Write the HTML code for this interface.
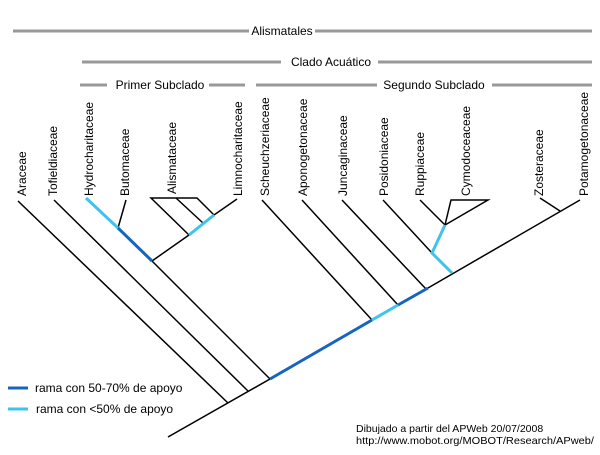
<!DOCTYPE html>
<html><head><meta charset="utf-8"><style>
body{margin:0;background:#fff;width:600px;height:450px;overflow:hidden}
text{font-family:"Liberation Sans",sans-serif;font-size:12px;fill:#000}
</style></head><body>
<svg width="600" height="450" xmlns="http://www.w3.org/2000/svg">
<g stroke="#999" stroke-width="3">
<line x1="13" y1="31" x2="249" y2="31"/><line x1="315" y1="31" x2="592" y2="31"/>
<line x1="82" y1="62" x2="281" y2="62"/><line x1="378" y1="62" x2="592" y2="62"/>
<line x1="80" y1="85" x2="107" y2="85"/><line x1="209" y1="85" x2="245" y2="85"/>
<line x1="256" y1="85" x2="377" y2="85"/><line x1="492" y1="85" x2="592" y2="85"/>
</g>
<text x="282" y="35" text-anchor="middle">Alismatales</text>
<text x="331" y="66" text-anchor="middle">Clado Acuático</text>
<text x="160" y="89" text-anchor="middle">Primer Subclado</text>
<text x="434" y="89" text-anchor="middle">Segundo Subclado</text>
<g stroke="#000" stroke-width="1.5" fill="none">
<line x1="168" y1="437" x2="270" y2="379"/>
<line x1="428" y1="288" x2="580" y2="200"/>
<line x1="18" y1="201" x2="228" y2="403"/>
<line x1="54" y1="200" x2="248" y2="391"/>
<line x1="152" y1="261" x2="270" y2="379"/>
<line x1="126" y1="200" x2="118" y2="228"/>
<line x1="152" y1="261" x2="189" y2="235"/>
<polyline points="189,235 151,198 197,198 214,215"/>
<line x1="176" y1="198" x2="203" y2="223"/>
<line x1="214" y1="215" x2="237" y2="199"/>
<line x1="262" y1="200" x2="372" y2="320"/>
<line x1="302" y1="200" x2="398" y2="305"/>
<line x1="342" y1="200" x2="426" y2="289"/>
<line x1="383" y1="200" x2="432" y2="253"/>
<line x1="420" y1="200" x2="445" y2="225"/>
<polyline points="445,225 451,200 488,200 445,225"/>
<line x1="540" y1="198" x2="560" y2="211"/>
</g>
<g stroke-width="3" fill="none">
<line x1="86" y1="198" x2="118" y2="228" stroke="#3cc4ee"/>
<line x1="118" y1="228" x2="152" y2="261" stroke="#1565c0"/>
<line x1="189" y1="235" x2="214" y2="215" stroke="#3cc4ee"/>
<line x1="270" y1="379" x2="372" y2="320" stroke="#1565c0"/>
<line x1="372" y1="320" x2="398" y2="305" stroke="#3cc4ee"/>
<line x1="398" y1="305" x2="428" y2="288" stroke="#1565c0"/>
<polyline points="452,273 432,253 445,225" stroke="#3cc4ee"/>
</g>
<g>
<text transform="translate(26,196) rotate(-90)">Araceae</text>
<text transform="translate(57,196) rotate(-90)">Tofieldiaceae</text>
<text transform="translate(93,196) rotate(-90)">Hydrocharitaceae</text>
<text transform="translate(129,196) rotate(-90)">Butomaceae</text>
<text transform="translate(176,194) rotate(-90)">Alismataceae</text>
<text transform="translate(242,196) rotate(-90)">Limnocharitaceae</text>
<text transform="translate(269,196) rotate(-90)">Scheuchzeriaceae</text>
<text transform="translate(307,196) rotate(-90)">Aponogetonaceae</text>
<text transform="translate(347,196) rotate(-90)">Juncaginaceae</text>
<text transform="translate(388,196) rotate(-90)">Posidoniaceae</text>
<text transform="translate(424,196) rotate(-90)">Ruppiaceae</text>
<text transform="translate(470,196) rotate(-90)">Cymodoceaceae</text>
<text transform="translate(543,196) rotate(-90)">Zosteraceae</text>
<text transform="translate(588,196) rotate(-90)">Potamogetonaceae</text>
</g>
<line x1="8" y1="388" x2="28" y2="388" stroke="#1565c0" stroke-width="3"/>
<line x1="8" y1="409" x2="28" y2="409" stroke="#3cc4ee" stroke-width="3"/>
<text x="35" y="392">rama con 50-70% de apoyo</text>
<text x="36" y="413">rama con &lt;50% de apoyo</text>
<text x="356" y="432" style="font-size:10.5px">Dibujado a partir del APWeb 20/07/2008</text>
<text x="356" y="444" style="font-size:10.5px" textLength="238" lengthAdjust="spacingAndGlyphs">http://www.mobot.org/MOBOT/Research/APweb/</text>
</svg>
</body></html>
